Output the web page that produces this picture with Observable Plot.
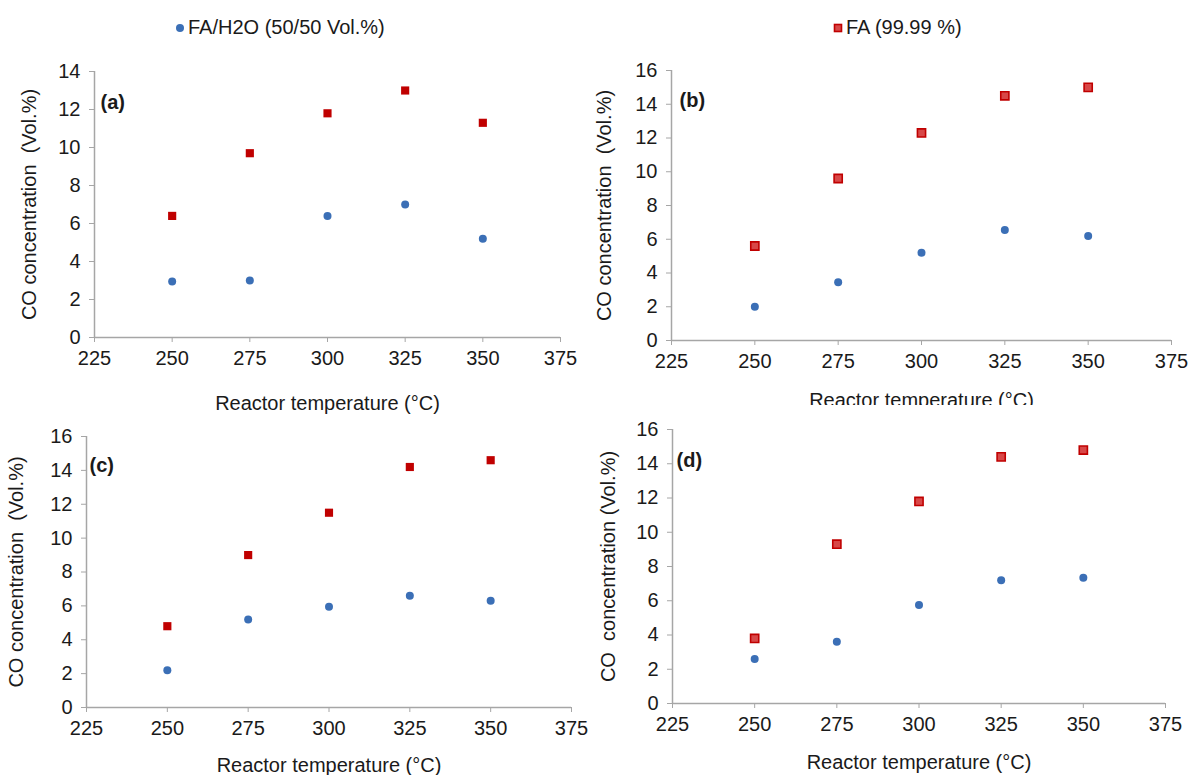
<!DOCTYPE html>
<html>
<head>
<meta charset="utf-8">
<script src="https://cdn.jsdelivr.net/npm/d3@7"></script>
<script src="https://cdn.jsdelivr.net/npm/@observablehq/plot@0.6"></script>
<style>
  html, body { margin: 0; padding: 0; background: #fff; }
  #root { position: relative; width: 1189px; height: 775px; overflow: hidden; font-family: "Liberation Sans", Arial, sans-serif; color: #1a1a1a; }
  .panel { position: absolute; }
  .legend { position: absolute; font-size: 20px; white-space: nowrap; display: flex; align-items: center; gap: 3px; }
</style>
</head>
<body>
<div id="root"></div>
<script>
// ---- data ----
const temps = [250, 275, 300, 325, 350];
const seriesNames = ["FA/H2O (50/50 Vol.%)", "FA (99.99 %)"];
const waterA = [2.95, 3.0, 6.4, 7.0, 5.2];
const pureA  = [6.4, 9.7, 11.8, 13.0, 11.3];
const waterB = [2.0, 3.45, 5.2, 6.55, 6.2];
const pureB  = [5.6, 9.6, 12.3, 14.5, 15.0];
const waterC = [2.2, 5.2, 5.95, 6.6, 6.3];
const pureC  = [4.8, 9.0, 11.5, 14.2, 14.6];
const waterD = [2.6, 3.6, 5.75, 7.2, 7.35];
const pureD  = [3.8, 9.3, 11.8, 14.4, 14.8];
const xTicks = [225, 250, 275, 300, 325, 350, 375];
const yTicks14 = [0, 2, 4, 6, 8, 10, 12, 14];
const yTicks16 = [0, 2, 4, 6, 8, 10, 12, 14, 16];
const panelLabels = ["(a)", "(b)", "(c)", "(d)"];
const xTitle = "Reactor temperature (\u00b0C)";
const yTitles = ["CO concentration  (Vol.%)", "CO concentration  (Vol.%)", "CO concentration  (Vol.%)", "CO  concentration (Vol.%)"];

// ---- styling ----
const BLUE = "#3b6fb6";
const RED = "#c00000";
const RED_LIGHT = "#d84848";
const AXIS = "#a6a6a6";
const TEXT = "#1a1a1a";

const panels = [
  {label: panelLabels[0], yTitle: yTitles[0], water: waterA, pure: pureA, yTicks: yTicks14, hollow: false,
   left: 0, top: 45, width: 600, height: 380, mL: 94, mR: 40, mT: 26, mB: 88, xOff: 72, yOff: 73, lx: 6, ly: 23, bg: "transparent"},
  {label: panelLabels[1], yTitle: yTitles[1], water: waterB, pure: pureB, yTicks: yTicks16, hollow: true,
   left: 590, top: 45, width: 599, height: 370, mL: 81, mR: 18, mT: 25, mB: 75, xOff: 66, yOff: 75, lx: 8, ly: 22, bg: "transparent"},
  {label: panelLabels[2], yTitle: yTitles[2], water: waterC, pure: pureC, yTicks: yTicks16, hollow: false,
   left: 0, top: 425, width: 600, height: 350, mL: 86, mR: 29, mT: 11, mB: 68, xOff: 64, yOff: 78, lx: 3, ly: 21, bg: "transparent"},
  {label: panelLabels[3], yTitle: yTitles[3], water: waterD, pure: pureD, yTicks: yTicks16, hollow: true,
   left: 590, top: 405, width: 599, height: 370, mL: 82, mR: 24, mT: 24, mB: 72, xOff: 65, yOff: 72, lx: 4, ly: 23, bg: "#fff"}
];

const root = document.getElementById("root");

function makePanel(p) {
  const waterRows = temps.map((t, i) => ({t, v: p.water[i]}));
  const pureRows = temps.map((t, i) => ({t, v: p.pure[i]}));
  const yMax = p.yTicks[p.yTicks.length - 1];
  const chart = Plot.plot({
    width: p.width,
    height: p.height,
    marginLeft: p.mL,
    marginRight: p.mR,
    marginTop: p.mT,
    marginBottom: p.mB,
    style: {fontFamily: "'Liberation Sans', Arial, sans-serif", fontSize: "20px", color: TEXT, background: p.bg, overflow: "visible"},
    x: {domain: [xTicks[0], xTicks[xTicks.length - 1]]},
    y: {domain: [p.yTicks[0], yMax]},
    marks: [
      Plot.ruleX([xTicks[0]], {stroke: AXIS, strokeWidth: 1.5}),
      Plot.ruleY([p.yTicks[0]], {stroke: AXIS, strokeWidth: 1.5}),
      Plot.axisX({ticks: xTicks, tickSize: 5, tickPadding: 8, stroke: AXIS, fill: TEXT, fontSize: 20,
        label: xTitle, labelAnchor: "center", labelArrow: "none", labelOffset: p.xOff}),
      Plot.axisY({ticks: p.yTicks, tickSize: 5, tickPadding: 9, stroke: AXIS, fill: TEXT, fontSize: 20,
        label: p.yTitle, labelAnchor: "center", labelArrow: "none", labelOffset: p.yOff}),
      Plot.dot(waterRows, {x: "t", y: "v", r: 4, fill: BLUE, symbol: "circle"}),
      Plot.dot(pureRows, {x: "t", y: "v", r: 4.6, symbol: "square", fill: p.hollow ? RED_LIGHT : RED, stroke: RED, strokeWidth: p.hollow ? 1.6 : 0}),
      Plot.text([p.label], {frameAnchor: "top-left", dx: p.lx, dy: p.ly, textAnchor: "start", fontWeight: "bold", fontSize: 20, fill: TEXT})
    ]
  });
  chart.classList.add("panel");
  chart.style.left = p.left + "px";
  chart.style.top = p.top + "px";
  root.appendChild(chart);
}
panels.forEach(makePanel);

// ---- legend entries at the top ----
function legendItem(text, kind, left, top) {
  const div = document.createElement("div");
  div.className = "legend";
  div.style.left = left + "px";
  div.style.top = top + "px";
  const sw = kind === "circle"
    ? `<svg width="10" height="10"><circle cx="5" cy="5" r="4" fill="${BLUE}"/></svg>`
    : `<svg width="10" height="10"><rect x="1.5" y="1.5" width="7" height="7" fill="${RED_LIGHT}" stroke="${RED}" stroke-width="1.6"/></svg>`;
  div.innerHTML = sw + `<span>${text}</span>`;
  root.appendChild(div);
}
legendItem(seriesNames[0], "circle", 175, 16);
legendItem(seriesNames[1], "square", 833, 16);
</script>
</body>
</html>
